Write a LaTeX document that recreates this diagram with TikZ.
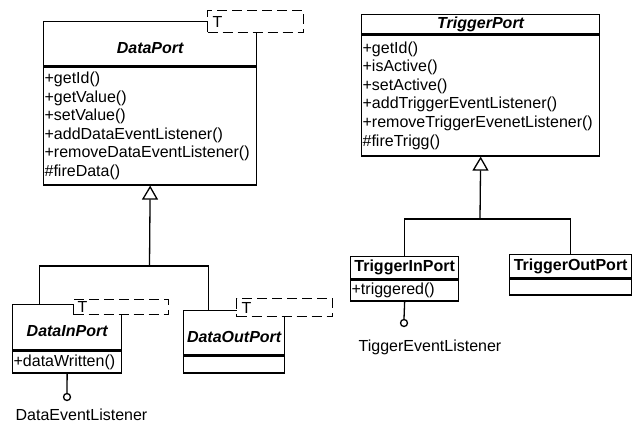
\documentclass[tikz,border=0pt]{standalone}
\usepackage{fontspec}
\setmainfont{Liberation Sans}
\usetikzlibrary{positioning,calc,arrows.meta}

\tikzset{
  uml/.style={draw, line width=1.3pt, inner sep=1pt, font=\fontsize{16}{18.6}\selectfont},
  classname/.style={uml, anchor=north west, font=\fontsize{16}{18.6}\selectfont\bfseries},
  abstractname/.style={classname, font=\fontsize{16}{18.6}\selectfont\bfseries\itshape},
  tmplname/.style={abstractname, text height=19.5pt},
  classops/.style={uml, align=left},
  tmpl/.style={draw, dash pattern=on 10pt off 5pt, line width=1.3pt, fill=white,
               inner ysep=0pt, inner xsep=5pt, anchor=north west, align=left,
               font=\fontsize{16}{18.6}\selectfont},
  inherit/.style={line width=1.3pt, -{Triangle[open, length=14pt, width=16pt, line width=1.3pt]}},
  lollipop/.style={circle, draw, line width=1.3pt, fill=white, inner sep=0pt, minimum size=7pt},
}

\begin{document}
\begin{tikzpicture}[x=1pt, y=-1pt]
    \useasboundingbox (0,0) rectangle (635,424);

    % DataPort
    \node[tmplname, minimum width=213pt, minimum height=44pt] (dataport) at (43,21) {DataPort};
    \node[classops, text width=211pt, minimum height=118pt, below=0pt of dataport] (dataportops)
        {+getId()\\+getValue()\\+setValue()\\+addDataEventListener()\\+removeDataEventListener()\\\#fireData()};
    \node[tmpl, minimum width=96pt, minimum height=22pt, text width=86pt] (dataporttmpl) at (207,10) {T};

    % TriggerPort
    \node[abstractname, minimum width=238pt, minimum height=19pt] (trigport) at (361,14) {TriggerPort};
    \node[classops, text width=236pt, minimum height=121pt, below=0pt of trigport] (trigportops)
        {+getId()\\+isActive()\\+setActive()\\+addTriggerEventListener()\\+removeTriggerEvenetListener()\\\#fireTrigg()};

    % DataInPort / DataOutPort
    \node[tmplname, minimum width=109pt, minimum height=45pt] (datain) at (12,304) {DataInPort};
    \node[classops, text width=107pt, minimum height=22pt, below=0pt of datain] (datainops) {+dataWritten()};
    \node[tmpl, minimum width=95pt, minimum height=15pt, text width=87pt, inner xsep=4pt] (dataintmpl) at (73,299) {T};

    \node[tmplname, minimum width=101pt, minimum height=44pt] (dataout) at (183,310) {DataOutPort};
    \node[classops, text width=99pt, minimum height=17pt, below=0pt of dataout] (dataoutops) {};
    \node[tmpl, minimum width=96pt, minimum height=18pt, text width=86pt] (dataouttmpl) at (236,298) {T};

    % TriggerInPort / TriggerOutPort
    \node[classname, minimum width=108pt, minimum height=22pt] (trigin) at (350,256) {TriggerInPort};
    \node[classops, text width=106pt, minimum height=21pt, below=0pt of trigin] (triginops) {+triggered()};

    \node[classname, minimum width=122pt, minimum height=23pt] (trigout) at (509,254) {TriggerOutPort};
    \node[classops, text width=120pt, minimum height=16pt, below=0pt of trigout] (trigoutops) {};

    % generalisations
    \coordinate (datajoin) at (149.5,266);
    \draw[line width=1.3pt] ($(datain.north west)!0.25!(datain.north east)$) |- (datajoin)
        -| ($(dataout.north west)!0.25!(dataout.north east)$);
    \draw[inherit] (datajoin) -- (dataportops.south);

    \coordinate (trigjoin) at (480,219);
    \draw[line width=1.3pt] (trigin.north) |- (trigjoin) -| (trigout.north);
    \draw[inherit] (trigjoin) -- (trigportops.south);

    % interfaces
    \node[lollipop] (datalisten) at (67,397) {};
    \draw[line width=1.3pt] (datainops.south) -- (datalisten.north);
    \node[font=\fontsize{16}{18.6}\selectfont] (datalistenlabel) at (81.5,415) {DataEventListener};

    \node[lollipop] (triglisten) at (404,323) {};
    \draw[line width=1.3pt] (triginops.south) -- (triglisten.north);
    \node[font=\fontsize{16}{18.6}\selectfont] (triglistenlabel) at (430,347) {TiggerEventListener};
\end{tikzpicture}
\end{document}
